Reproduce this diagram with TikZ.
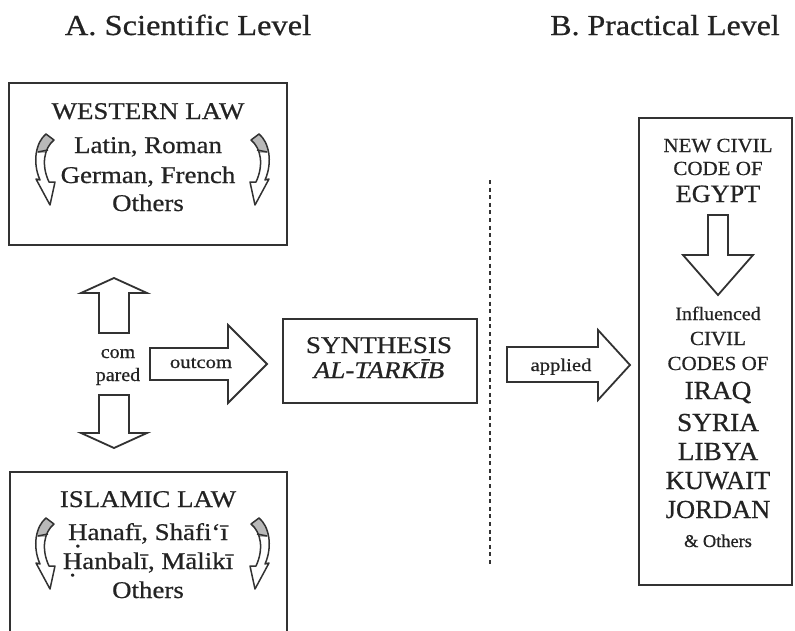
\documentclass[tikz,border=0pt]{standalone}
\usepackage{fontspec}
\setmainfont{Liberation Serif}[FakeBold=0.6]
\usepackage{graphicx}
\definecolor{txtcol}{RGB}{35,35,35}
\definecolor{linecol}{RGB}{50,50,50}
\definecolor{curlgray}{RGB}{185,185,185}
\newcommand\fs[1]{\fontsize{#1}{#1}\selectfont}
\newcommand\sx[2]{\scalebox{#1}[1]{#2}}
\newcommand\Hdot{\leavevmode\setbox0\hbox{H}\rlap{\hbox to\wd0{\hss\raisebox{-.3em}[0pt][0pt]{.}\hss}}H}
\tikzset{
  curlarrow/.pic={
    \begin{scope}
      \clip (-20,-40) rectangle (20,-18);
      \fill[curlgray] (0,-36) .. controls (-10,-28) and (-14,-8) .. (-6,10) -- (-10,9) -- (4,35) -- (9,12) -- (3,12) .. controls (-5,-5) and (-2,-22) .. (8,-30) -- cycle;
    \end{scope}
    \draw[curlline] (0,-36) .. controls (-10,-28) and (-14,-8) .. (-6,10) -- (-10,9) -- (4,35) -- (9,12) -- (3,12) .. controls (-5,-5) and (-2,-22) .. (8,-30) -- cycle;
    \draw[curlline] (-8,-18) -- (2,-20);
  }
}
\begin{document}
\begin{tikzpicture}[x=1pt,y=-1pt,
  txt/.style={anchor=base, text=txtcol, inner sep=0pt},
  boxshape/.style={draw=linecol, line width=1.8pt, inner sep=0pt, fill=none},
  blockarrow/.style={draw=linecol, line width=1.8pt, fill=white, line join=miter},
  curlline/.style={draw=linecol, line width=1.5pt, line join=round},
  dotline/.style={draw=linecol, line width=2.6pt, dash pattern=on 4pt off 3.6pt},
]
\useasboundingbox (0,0) rectangle (795,630);
\fill[white] (0,0) rectangle (795,630);
\clip (0,0) rectangle (795,630);

% titles
\node[txt, font=\fs{29}] (titleA) at (188,35) {\sx{1.12}{A. Scientific Level}};
\node[txt, font=\fs{29}] (titleB) at (665,35) {\sx{1.1}{B. Practical Level}};

% western law box
\node[boxshape, minimum width=278pt, minimum height=162pt] (west) at (148,164) {};
\node[txt, font=\fs{24}] (w1) at (148,119) {\sx{1.12}{WESTERN LAW}};
\node[txt, font=\fs{24}] (w2) at (148,153) {\sx{1.12}{Latin, Roman}};
\node[txt, font=\fs{24}] (w3) at (148,183) {\sx{1.12}{German, French}};
\node[txt, font=\fs{24}] (w4) at (148,211) {\sx{1.12}{Others}};
\pic at (46,170) {curlarrow};
\pic[xscale=-1] at (259,170) {curlarrow};

% islamic law box
\node[boxshape, minimum width=277pt, minimum height=178pt] (isl) at (148.5,561) {};
\node[txt, font=\fs{24}] (i1) at (148,507) {\sx{1.12}{ISLAMIC LAW}};
\node[txt, font=\fs{24}] (i2) at (148,540) {\sx{1.12}{\Hdot anafī, Shāfi‘ī}};
\node[txt, font=\fs{24}] (i3) at (148,569) {\sx{1.12}{\Hdot anbalī, Mālikī}};
\node[txt, font=\fs{24}] (i4) at (148,598) {\sx{1.12}{Others}};
\pic at (46,554) {curlarrow};
\pic[xscale=-1] at (259,554) {curlarrow};

% compared arrows
\draw[blockarrow] (99,333) -- (99,293) -- (81,293) -- (114,278) -- (147,293) -- (129,293) -- (129,333) -- cycle;
\draw[blockarrow] (99,395) -- (99,433) -- (81,433) -- (114,448) -- (147,433) -- (129,433) -- (129,395) -- cycle;
\node[txt, font=\fs{19}] (com) at (118,358) {\sx{1.05}{com}};
\node[txt, font=\fs{19}] (pared) at (118,381) {\sx{1.05}{pared}};

% outcome arrow
\draw[blockarrow] (150,348) -- (228,348) -- (228,325) -- (267,364) -- (228,403) -- (228,380) -- (150,380) -- cycle;
\node[txt, font=\fs{18}] (outcom) at (201,368) {\sx{1.15}{outcom}};

% synthesis
\node[boxshape, minimum width=194pt, minimum height=84pt] (syn) at (380,361) {};
\node[txt, font=\fs{24}] (s1) at (379,353) {\sx{1.13}{SYNTHESIS}};
\node[txt, font=\fs{24}] (s2) at (379,378) {\sx{1.13}{\itshape AL-TARKĪB}};

% divider
\coordinate (dtop) at (490,180);
\coordinate (dbot) at (490,567);
\draw[dotline] (dtop) -- (dbot);

% applied arrow
\draw[blockarrow] (507,347) -- (598,347) -- (598,330) -- (630,365) -- (598,400) -- (598,382) -- (507,382) -- cycle;
\node[txt, font=\fs{18}] (applied) at (561,371) {\sx{1.15}{applied}};

% right box
\node[boxshape, minimum width=153pt, minimum height=467pt] (civ) at (715.5,351.5) {};
\node[txt, font=\fs{20}] (r1) at (718,152) {\sx{1.05}{NEW CIVIL}};
\node[txt, font=\fs{20}] (r2) at (718,175) {\sx{1.05}{CODE OF}};
\node[txt, font=\fs{25}] (r3) at (718,202) {\sx{1.05}{EGYPT}};
\draw[blockarrow] (708,215) -- (708,255) -- (683,255) -- (718,295) -- (753,255) -- (728,255) -- (728,215) -- cycle;
\node[txt, font=\fs{19}] (r4) at (718,320) {\sx{1.05}{Influenced}};
\node[txt, font=\fs{20}] (r5) at (718,345) {\sx{1.05}{CIVIL}};
\node[txt, font=\fs{20}] (r6) at (718,370) {\sx{1.05}{CODES OF}};
\node[txt, font=\fs{26}] (r7) at (718,399) {\sx{1.05}{IRAQ}};
\node[txt, font=\fs{26}] (r8) at (718,431) {\sx{1.05}{SYRIA}};
\node[txt, font=\fs{26}] (r9) at (718,460) {\sx{1.05}{LIBYA}};
\node[txt, font=\fs{26}] (r10) at (718,489) {\sx{1.02}{KUWAIT}};
\node[txt, font=\fs{26}] (r11) at (718,518) {\sx{1.02}{JORDAN}};
\node[txt, font=\fs{18}] (r12) at (718,547) {\sx{1.02}{\& Others}};
\end{tikzpicture}
\end{document}
